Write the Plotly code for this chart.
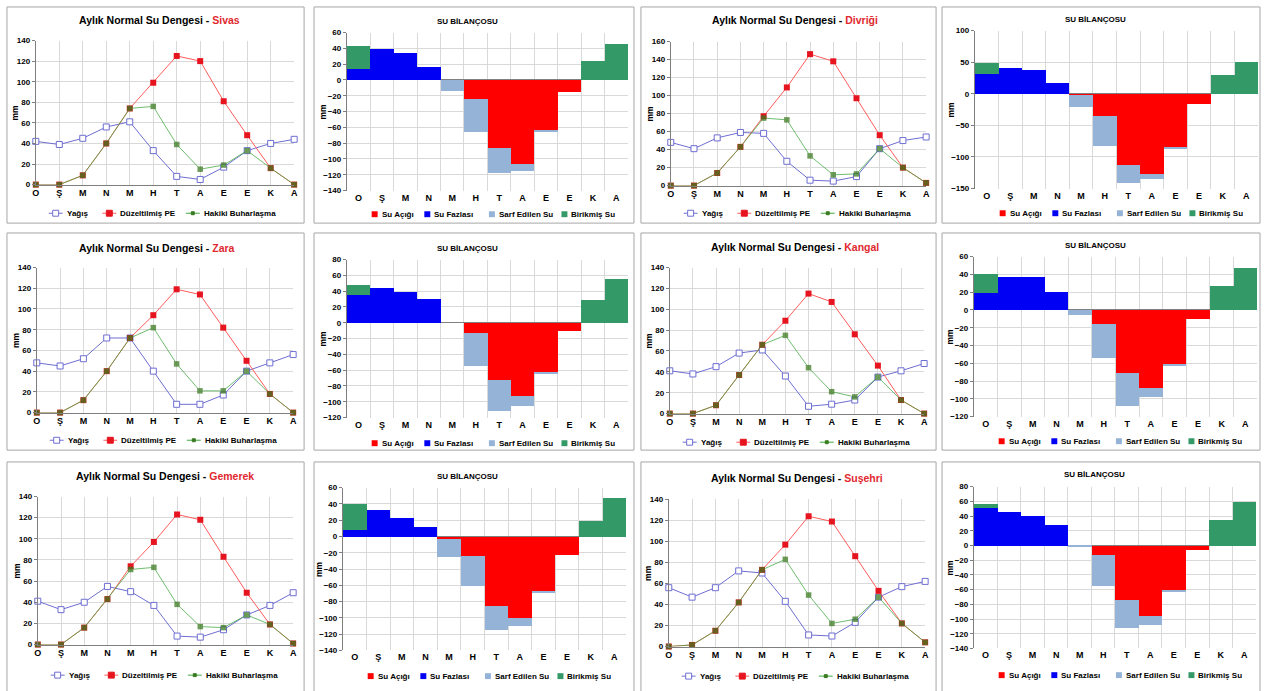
import plotly.graph_objects as go

W, H = 1266, 691
FONT = "Liberation Sans, Arial, sans-serif"

months = ["O", "Ş", "M", "N", "M", "H", "T", "A", "E", "E", "K", "A"]
x_idx = list(range(12))

# ---- Sivas ----
sivas_yagis = [42, 39, 45, 56, 61, 33, 8, 5, 17, 33, 40, 44]
sivas_pe = [0, 0, 9, 40, 74, 99, 125, 120, 81, 48, 16, 0]
sivas_ae = [0, 0, 9, 40, 74, 76, 39, 15, 19, 33, 16, 0]
sivas_acik = [0, 0, 0, 0, 0, -23, -86, -106, -63, -15, 0, 0]
sivas_fazla = [15, 40, 35, 17, 0, 0, 0, 0, 0, 0, 0, 0]
sivas_sarf = [0, 0, 0, 0, -13, -43, -31, -9, -2, 0, 0, 0]
sivas_birikmis = [29, 0, 0, 0, 0, 0, 0, 0, 0, 0, 25, 46]

# ---- Divriği ----
divrigi_yagis = [48, 41, 53, 59, 58, 27, 6, 5, 10, 41, 50, 54]
divrigi_pe = [0, 0, 14, 43, 77, 109, 146, 138, 97, 56, 20, 3]
divrigi_ae = [0, 0, 14, 43, 75, 73, 33, 12, 13, 41, 20, 3]
divrigi_acik = [0, 0, 0, 0, -2, -35, -112, -126, -85, -15, 0, 0]
divrigi_fazla = [32, 41, 39, 17, 0, 0, 0, 0, 0, 0, 0, 0]
divrigi_sarf = [0, 0, 0, 0, -18, -47, -28, -8, -2, 0, 0, 0]
divrigi_birikmis = [17, 0, 0, 0, 0, 0, 0, 0, 0, 0, 30, 51]

# ---- Zara ----
zara_yagis = [48, 45, 52, 72, 72, 40, 8, 8, 17, 40, 48, 56]
zara_pe = [0, 0, 12, 40, 72, 94, 119, 114, 82, 50, 18, 0]
zara_ae = [0, 0, 12, 40, 72, 82, 47, 21, 21, 40, 18, 0]
zara_acik = [0, 0, 0, 0, 0, -13, -72, -92, -62, -10, 0, 0]
zara_fazla = [36, 45, 40, 31, 0, 0, 0, 0, 0, 0, 0, 0]
zara_sarf = [0, 0, 0, 0, 0, -41, -39, -13, -3, 0, 0, 0]
zara_birikmis = [12, 0, 0, 0, 0, 0, 0, 0, 0, 0, 29, 56]

# ---- Kangal ----
kangal_yagis = [41, 38, 45, 58, 61, 36, 7, 9, 13, 35, 41, 48]
kangal_pe = [0, 0, 8, 37, 66, 89, 115, 107, 76, 46, 13, 0]
kangal_ae = [0, 0, 8, 37, 66, 75, 44, 21, 16, 35, 13, 0]
kangal_acik = [0, 0, 0, 0, 0, -15, -71, -87, -60, -10, 0, 0]
kangal_fazla = [20, 38, 37, 21, 0, 0, 0, 0, 0, 0, 0, 0]
kangal_sarf = [0, 0, 0, 0, -5, -39, -37, -11, -3, 0, 0, 0]
kangal_birikmis = [21, 0, 0, 0, 0, 0, 0, 0, 0, 0, 27, 48]

# ---- Gemerek ----
gemerek_yagis = [41, 33, 40, 55, 50, 37, 8, 7, 14, 28, 37, 49]
gemerek_pe = [0, 0, 16, 43, 74, 97, 123, 118, 83, 49, 19, 1]
gemerek_ae = [0, 0, 16, 43, 71, 73, 38, 17, 16, 28, 19, 1]
gemerek_acik = [0, 0, 0, 0, -3, -24, -85, -100, -67, -22, 0, 0]
gemerek_fazla = [9, 33, 23, 12, 0, 0, 0, 0, 0, 0, 0, 0]
gemerek_sarf = [0, 0, 0, 0, -22, -36, -30, -10, -2, 0, 0, 0]
gemerek_birikmis = [31, 0, 0, 0, 0, 0, 0, 0, 0, 0, 19, 48]

# ---- Suşehri ----
susehri_yagis = [56, 47, 56, 72, 70, 43, 11, 10, 23, 47, 57, 62]
susehri_pe = [0, 1.5, 15, 42, 73, 97, 124, 119, 86, 53, 22, 4]
susehri_ae = [0, 1.5, 15, 42, 73, 83, 49, 22, 26, 47, 22, 4]
susehri_acik = [0, 0, 0, 0, 0, -13, -74, -96, -60, -6, 0, 0]
susehri_fazla = [51, 46, 41, 29, 0, 0, 0, 0, 0, 0, 0, 0]
susehri_sarf = [0, 0, 0, 0, -2, -42, -38, -12, -3, 0, 0, 0]
susehri_birikmis = [6, 0, 0, 0, 0, 0, 0, 0, 0, 0, 35, 59]

stations = [
    dict(name="Sivas", yagis=sivas_yagis, pe=sivas_pe, ae=sivas_ae,
         acik=sivas_acik, fazla=sivas_fazla, sarf=sivas_sarf, birikmis=sivas_birikmis),
    dict(name="Divriği", yagis=divrigi_yagis, pe=divrigi_pe, ae=divrigi_ae,
         acik=divrigi_acik, fazla=divrigi_fazla, sarf=divrigi_sarf, birikmis=divrigi_birikmis),
    dict(name="Zara", yagis=zara_yagis, pe=zara_pe, ae=zara_ae,
         acik=zara_acik, fazla=zara_fazla, sarf=zara_sarf, birikmis=zara_birikmis),
    dict(name="Kangal", yagis=kangal_yagis, pe=kangal_pe, ae=kangal_ae,
         acik=kangal_acik, fazla=kangal_fazla, sarf=kangal_sarf, birikmis=kangal_birikmis),
    dict(name="Gemerek", yagis=gemerek_yagis, pe=gemerek_pe, ae=gemerek_ae,
         acik=gemerek_acik, fazla=gemerek_fazla, sarf=gemerek_sarf, birikmis=gemerek_birikmis),
    dict(name="Suşehri", yagis=susehri_yagis, pe=susehri_pe, ae=susehri_ae,
         acik=susehri_acik, fazla=susehri_fazla, sarf=susehri_sarf, birikmis=susehri_birikmis),
]

# Panel geometry in pixels: frames, plot areas (x0, x1, y0, y1), titles, legends
layout_specs = [
    dict(line_box=(3, 302, 3, 222), line_area=(32, 292, 37, 183), line_max=140,
         line_title=(156, 16), line_leg=212,
         bar_box=(312, 634, 3, 222), bar_area=(345, 628, 29, 189), bar_range=(-140, 60), bar_dtick=20,
         bar_title=(466, 18), bar_leg=213),
    dict(line_box=(641, 938, 3, 222), line_area=(671, 928, 38, 184), line_max=160,
         line_title=(796, 16), line_leg=212,
         bar_box=(944, 1264, 3, 222), bar_area=(977, 1262, 27, 187), bar_range=(-150, 100), bar_dtick=50,
         bar_title=(1098, 16), bar_leg=212),
    dict(line_box=(3, 302, 232, 452), line_area=(33, 291, 267, 414), line_max=140,
         line_title=(154, 247), line_leg=442,
         bar_box=(312, 634, 232, 452), bar_area=(345, 628, 259, 419), bar_range=(-120, 80), bar_dtick=20,
         bar_title=(466, 248), bar_leg=445),
    dict(line_box=(641, 938, 232, 452), line_area=(670, 926, 267, 415), line_max=140,
         line_title=(796, 246), line_leg=444,
         bar_box=(944, 1264, 232, 452), bar_area=(976, 1261, 256, 418), bar_range=(-120, 60), bar_dtick=20,
         bar_title=(1098, 245), bar_leg=443),
    dict(line_box=(3, 302, 464, 700), line_area=(34, 291, 499, 649), line_max=140,
         line_title=(162, 478), line_leg=680,
         bar_box=(312, 634, 464, 700), bar_area=(341, 626, 490, 655), bar_range=(-140, 60), bar_dtick=20,
         bar_title=(466, 479), bar_leg=681),
    dict(line_box=(641, 938, 464, 700), line_area=(669, 927, 502, 651), line_max=140,
         line_title=(798, 480), line_leg=681,
         bar_box=(944, 1264, 464, 700), bar_area=(976, 1260, 489, 653), bar_range=(-140, 80), bar_dtick=20,
         bar_title=(1097, 477), bar_leg=680),
]

C_YAGIS = "#6E6ED2"
C_PE_LINE = "#FF5C5C"
C_PE = "#E6141E"
C_AE_LINE = "#3FA83F"
C_AE = "#3A7A20"
C_ACIK = "#FF0000"
C_FAZLA = "#0000F5"
C_SARF = "#95B3D7"
C_BIRIKMIS = "#339966"
C_CITY = "#E0282E"
GRID = "#D9D9D9"
AXIS = "#7F7F7F"
FRAME = "#A6A6A6"


def px_x(x):
    return x / W


def px_y(y):
    return 1 - y / H


def font(size, color="black"):
    return dict(family=FONT, size=size, color=color, weight="bold")


fig = go.Figure()
layout_axes = {}
shapes = []
annotations = []


def ax_name(prefix, k):
    return prefix if k == 1 else f"{prefix}{k}"


for i, (st, spec) in enumerate(zip(stations, layout_specs)):
    kl = 2 * i + 1
    kb = 2 * i + 2

    # ---------- line chart: monthly water balance ----------
    x0, x1, y0, y1 = spec["line_area"]
    xa, ya = f"x{kl}", f"y{kl}"
    layout_axes[ax_name("xaxis", kl)] = dict(
        domain=[px_x(x0), px_x(x1)], range=[0, 11], anchor=ya,
        tickmode="array", tickvals=x_idx, ticktext=months,
        showgrid=True, gridcolor=GRID, gridwidth=1,
        showline=True, linecolor=AXIS, linewidth=1, ticks="",
        zeroline=False, tickfont=font(9), fixedrange=True)
    layout_axes[ax_name("yaxis", kl)] = dict(
        domain=[px_y(y1), px_y(y0)], range=[0, spec["line_max"]], anchor=xa,
        tick0=0, dtick=20, showgrid=True, gridcolor=GRID, gridwidth=1,
        showline=True, linecolor=AXIS, linewidth=1,
        ticks="outside", ticklen=3, tickcolor=AXIS,
        zeroline=False, tickfont=font(8), fixedrange=True)

    fig.add_trace(go.Scatter(
        x=x_idx, y=st["yagis"], mode="lines+markers", name="Yağış",
        line=dict(color=C_YAGIS, width=1),
        marker=dict(symbol="square", size=6, color="white",
                    line=dict(color=C_YAGIS, width=1)),
        xaxis=xa, yaxis=ya, showlegend=False, cliponaxis=False))
    fig.add_trace(go.Scatter(
        x=x_idx, y=st["pe"], mode="lines+markers", name="Düzeltilmiş PE",
        line=dict(color=C_PE_LINE, width=1),
        marker=dict(symbol="square", size=6, color=C_PE, line=dict(width=0)),
        xaxis=xa, yaxis=ya, showlegend=False, cliponaxis=False))
    fig.add_trace(go.Scatter(
        x=x_idx, y=st["ae"], mode="lines+markers", name="Hakiki Buharlaşma",
        line=dict(color=C_AE_LINE, width=1),
        marker=dict(symbol="square", size=5.5, color=C_AE, line=dict(width=0)),
        opacity=0.75,
        xaxis=xa, yaxis=ya, showlegend=False, cliponaxis=False))

    bx0, bx1, by0, by1 = spec["line_box"]
    shapes.append(dict(type="rect", xref="paper", yref="paper",
                       x0=px_x(bx0), x1=px_x(bx1), y0=px_y(by1), y1=px_y(by0),
                       line=dict(color=FRAME, width=1), fillcolor="rgba(0,0,0,0)",
                       layer="below"))
    tx, ty = spec["line_title"]
    annotations.append(dict(
        xref="paper", yref="paper", x=px_x(tx), y=px_y(ty),
        xanchor="center", yanchor="middle", showarrow=False,
        text=f"Aylık Normal Su Dengesi - <span style='color:{C_CITY}'>{st['name']}</span>",
        font=font(10.5)))
    annotations.append(dict(
        xref="paper", yref="paper", x=px_x(x0 - 21), y=px_y((y0 + y1) / 2),
        xanchor="center", yanchor="middle", showarrow=False, textangle=-90,
        text="mm", font=font(8.5)))

    # legend of the line chart
    ly = spec["line_leg"]
    items = [("Yağış", 20, C_YAGIS, "white", C_YAGIS, 6),
             ("Düzeltilmiş PE", 74, C_PE_LINE, C_PE, C_PE, 6),
             ("Hakiki Buharlaşma", 158, C_AE_LINE, C_AE, C_AE, 3)]
    for label, off, lcol, mfill, mline, msz in items:
        mx = x0 + off
        shapes.append(dict(type="line", xref="paper", yref="paper",
                           x0=px_x(mx - 7), x1=px_x(mx + 7), y0=px_y(ly), y1=px_y(ly),
                           line=dict(color=lcol, width=1)))
        h = msz / 2
        shapes.append(dict(type="rect", xref="paper", yref="paper",
                           x0=px_x(mx - h), x1=px_x(mx + h), y0=px_y(ly + h), y1=px_y(ly - h),
                           line=dict(color=mline, width=1), fillcolor=mfill))
        annotations.append(dict(
            xref="paper", yref="paper", x=px_x(mx + 9), y=px_y(ly),
            xanchor="left", yanchor="middle", showarrow=False,
            text=label, font=font(8)))

    # ---------- stacked bar chart: water budget ----------
    x0, x1, y0, y1 = spec["bar_area"]
    xa, ya = f"x{kb}", f"y{kb}"
    layout_axes[ax_name("xaxis", kb)] = dict(
        domain=[px_x(x0), px_x(x1)], range=[-0.5, 11.5], anchor=ya,
        tickmode="array", tickvals=x_idx, ticktext=months,
        showgrid=False, showline=False, ticks="", zeroline=False,
        minor=dict(tickmode="array", tickvals=[v + 0.5 for v in range(-1, 12)],
                   showgrid=True, gridcolor=GRID, gridwidth=1, ticks=""),
        tickfont=font(9), fixedrange=True)
    lo, hi = spec["bar_range"]
    layout_axes[ax_name("yaxis", kb)] = dict(
        domain=[px_y(y1), px_y(y0)], range=[lo, hi], anchor=xa,
        tick0=0, dtick=spec["bar_dtick"], showgrid=True, gridcolor=GRID, gridwidth=1,
        showline=True, linecolor=AXIS, linewidth=1,
        ticks="outside", ticklen=3, tickcolor=AXIS,
        zeroline=True, zerolinecolor=AXIS, zerolinewidth=1,
        tickfont=font(8), fixedrange=True)

    for key, label, col in [("acik", "Su Açığı", C_ACIK),
                            ("fazla", "Su Fazlası", C_FAZLA),
                            ("sarf", "Sarf Edilen Su", C_SARF),
                            ("birikmis", "Birikmiş Su", C_BIRIKMIS)]:
        fig.add_trace(go.Bar(
            x=x_idx, y=st[key], width=1, name=label,
            marker=dict(color=col, line=dict(width=0)),
            xaxis=xa, yaxis=ya, showlegend=False))

    bx0, bx1, by0, by1 = spec["bar_box"]
    shapes.append(dict(type="rect", xref="paper", yref="paper",
                       x0=px_x(bx0), x1=px_x(bx1), y0=px_y(by1), y1=px_y(by0),
                       line=dict(color=FRAME, width=1), fillcolor="rgba(0,0,0,0)",
                       layer="below"))
    tx, ty = spec["bar_title"]
    annotations.append(dict(
        xref="paper", yref="paper", x=px_x(tx), y=px_y(ty),
        xanchor="center", yanchor="middle", showarrow=False,
        text="SU BİLANÇOSU", font=font(8)))
    annotations.append(dict(
        xref="paper", yref="paper", x=px_x(x0 - 24), y=px_y((y0 + y1) / 2),
        xanchor="center", yanchor="middle", showarrow=False, textangle=-90,
        text="mm", font=font(8.5)))

    ly = spec["bar_leg"]
    for label, off, col in [("Su Açığı", 28, C_ACIK), ("Su Fazlası", 81, C_FAZLA),
                            ("Sarf Edilen Su", 146, C_SARF), ("Birikmiş Su", 219, C_BIRIKMIS)]:
        mx = x0 + off
        shapes.append(dict(type="rect", xref="paper", yref="paper",
                           x0=px_x(mx - 3), x1=px_x(mx + 3), y0=px_y(ly + 3), y1=px_y(ly - 3),
                           line=dict(width=0), fillcolor=col))
        annotations.append(dict(
            xref="paper", yref="paper", x=px_x(mx + 5), y=px_y(ly),
            xanchor="left", yanchor="middle", showarrow=False,
            text=label, font=font(8)))

fig.update_layout(
    width=W, height=H,
    margin=dict(l=0, r=0, t=0, b=0),
    paper_bgcolor="white", plot_bgcolor="white",
    barmode="relative", bargap=0,
    showlegend=False,
    shapes=shapes, annotations=annotations,
    font=dict(family=FONT, color="black"),
    **layout_axes,
)

fig.write_html("out.html", config={"displayModeBar": False})
